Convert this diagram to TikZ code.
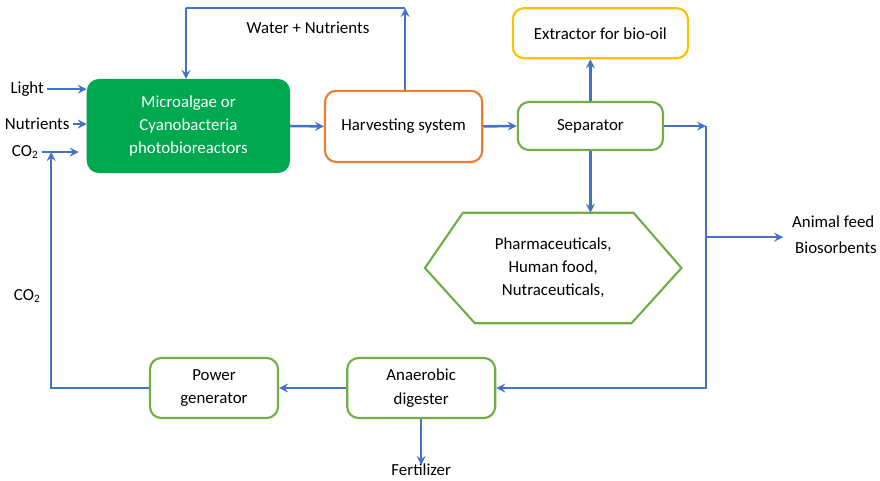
\documentclass[tikz,border=0pt]{standalone}
\usepackage{fontspec}
\setmainfont{Carlito}
\usepackage{tikz}
\usetikzlibrary{positioning,arrows}
\definecolor{lineblue}{RGB}{68,114,196}
\definecolor{boxgreen}{RGB}{112,173,71}
\definecolor{fillgreen}{RGB}{0,168,80}
\definecolor{boxorange}{RGB}{237,125,49}
\definecolor{boxyellow}{RGB}{255,192,0}
\tikzstyle{unit} = [rectangle, rounded corners=8pt, line width=1.5pt, text centered, align=center, fill=white]
\tikzstyle{greenbox} = [unit, draw=boxgreen]
\tikzstyle{reactorbox} = [unit, draw=fillgreen, fill=fillgreen, text=white]
\tikzstyle{label} = [inner sep=2pt, align=center]
\tikzstyle{arrow} = [line width=1.8pt, draw=lineblue, ->, >=stealth]
\tikzstyle{flow} = [line width=1.8pt, draw=lineblue]

\begin{document}
\begin{tikzpicture}[font=\fontsize{12}{16.5}\selectfont]

	\useasboundingbox (0,0) rectangle (22,-12);

	\node (reactor) [reactorbox, minimum width=5.03cm, minimum height=2.3cm] at (4.71,-3.15) {Microalgae or\\Cyanobacteria\\photobioreactors};
	\node (harvest) [unit, draw=boxorange, minimum width=3.93cm, minimum height=1.78cm] at (10.09,-3.16) {Harvesting system};
	\node (sep) [greenbox, minimum width=3.63cm, minimum height=1.2cm] at (14.76,-3.15) {Separator};
	\node (extr) [unit, draw=boxyellow, minimum width=4.38cm, minimum height=1.25cm] at (15.01,-0.83) {Extractor for bio-oil};
	\node (prod) [label, minimum width=6.4cm, minimum height=2.75cm] at (13.83,-6.7) {Pharmaceuticals,\\Human food,\\Nutraceuticals,};
	\node (anaer) [greenbox, minimum width=3.7cm, minimum height=1.5cm] at (10.53,-9.7) {Anaerobic\\digester};
	\node (power) [greenbox, minimum width=3.2cm, minimum height=1.5cm] at (5.35,-9.7) {Power\\generator};

	\draw [line width=1.5pt, draw=boxgreen] (prod.west) -- ([xshift=0.95cm]prod.north west) -- ([xshift=-1.2cm]prod.north east) -- (prod.east) -- ([xshift=-1.25cm]prod.south east) -- ([xshift=1.25cm]prod.south west) -- cycle;

	\node (light) [label] at (0.68,-2.23) {Light};
	\node (nutr) [label] at (0.93,-3.1) {Nutrients};
	\node (co2a) [label] at (0.63,-3.8) {CO\textsubscript{2}};
	\node (co2b) [label] at (0.68,-7.4) {CO\textsubscript{2}};
	\node (water) [label] at (7.7,-0.7) {Water + Nutrients};
	\node (feed) [label] at (20.83,-5.55) {Animal feed};
	\node (bios) [label] at (20.9,-6.2) {Biosorbents};
	\node (fert) [label] at (10.53,-11.75) {Fertilizer};

	\coordinate (co2in) at (1.28,-3.8);
	\coordinate (topR) at (10.13,-0.2);
	\coordinate (topL) at (4.65,-0.2);
	\coordinate (sepR) at (17.65,-3.15);
	\coordinate (branch) at (17.65,-5.93);
	\coordinate (feedin) at (19.58,-5.93);

	\draw [arrow] (light.east) -- (light.east -| reactor.west);
	\draw [arrow] (nutr.east) -- (nutr.east -| reactor.west);
	\draw [arrow] (co2a.east) -- ([xshift=-0.2cm]co2a.east -| reactor.west);
	\draw [arrow] (power.west) -| (co2in);
	\draw [arrow] (harvest.north -| topR) -- (topR);
	\draw [flow] (topR) -- (topL);
	\draw [arrow] (topL) -- (topL |- reactor.north);
	\draw [arrow] (reactor.east) -- (harvest.west);
	\draw [arrow] (harvest.east) -- (sep.west);
	\draw [arrow] (sep.north) -- (sep.north |- extr.south);
	\draw [arrow] (sep.south) -- (sep.south |- prod.north);
	\draw [arrow] (sep.east) -- (sepR);
	\draw [arrow] (sepR) |- (anaer.east);
	\draw [arrow] (branch) -- (feedin);
	\draw [arrow] (anaer.west) -- (power.east);
	\draw [arrow] (anaer.south) -- ([yshift=-0.1cm]fert.north);

\end{tikzpicture}
\end{document}
